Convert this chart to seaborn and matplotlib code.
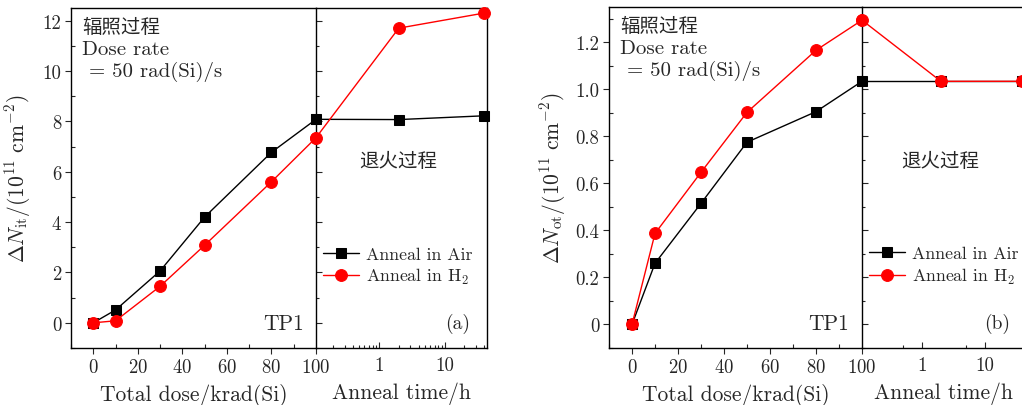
"""
Interface and oxide trap charge vs total dose, then during anneal (air vs H2).
Two panels, each split into an irradiation part and a log-time anneal part.
"""
import numpy as np
import seaborn as sns
import matplotlib.pyplot as plt
from matplotlib.ticker import MultipleLocator, FixedLocator, FuncFormatter, NullFormatter

sns.set_style("ticks")
plt.rcParams["font.family"] = ["cmr10", "Noto Sans CJK SC", "DejaVu Sans"]
plt.rcParams["mathtext.fontset"] = "cm"
plt.rcParams["axes.formatter.use_mathtext"] = True
plt.rcParams["axes.unicode_minus"] = False

################################ data

DOSE = [0, 10, 30, 50, 80, 100]        # krad(Si)
ANNEAL_T = [2, 40]                      # h

NIT_AIR = [0.0, 0.51, 2.06, 4.2, 6.77, 8.08]
NIT_H2 = [0.0, 0.08, 1.45, 3.08, 5.6, 7.35]
NIT_AIR_ANNEAL = [8.07, 8.22]
NIT_H2_ANNEAL = [11.7, 12.3]

NOT_AIR = [0.0, 0.26, 0.515, 0.775, 0.905, 1.034]
NOT_H2 = [0.0, 0.387, 0.647, 0.902, 1.166, 1.294]
NOT_AIR_ANNEAL = [1.034, 1.034]
NOT_H2_ANNEAL = [1.034, 1.034]

LABELS = ["Anneal in Air", r"Anneal in H$_2$"]

################################ style

W, H = 1022, 406
T_MIN, T_MAX = 0.11, 44

def fx(px): return px / W
def fy(py): return 1 - py / H

LINE_ARGS = dict(linewidth=1.0, clip_on=False, zorder=5)
AIR_ARGS = dict(color="black", marker="s", markersize=7.5, markeredgecolor="black", **LINE_ARGS)
H2_ARGS = dict(color="red", marker="o", markersize=8.5, markeredgecolor="red", **LINE_ARGS)

CJK = ["Noto Sans CJK SC", "DejaVu Sans"]
LABEL_SIZE = 15.5
TICK_SIZE = 13.5
CJK_SIZE = 14

fig = plt.figure(figsize=(W / 100, H / 100), dpi=100)


def make_panel(x0, xdiv, x1, ytop, ybot, ylim, ymaj, ymin, yfmt, ylabel, ylab_x,
               d_air, d_h2, a_air, a_h2, letter, minor_t):
    axl = fig.add_axes([fx(x0), fy(ybot), fx(xdiv - x0), (ybot - ytop) / H])
    axr = fig.add_axes([fx(xdiv), fy(ybot), fx(x1 - xdiv), (ybot - ytop) / H], sharey=axl)

    sns.lineplot(x=DOSE, y=d_air, ax=axl, **AIR_ARGS)
    sns.lineplot(x=DOSE, y=d_h2, ax=axl, **H2_ARGS)

    t_air = [T_MIN] + ANNEAL_T
    sns.lineplot(x=t_air, y=[d_air[-1]] + a_air, ax=axr, label=LABELS[0], **AIR_ARGS)
    sns.lineplot(x=t_air, y=[d_h2[-1]] + a_h2, ax=axr, label=LABELS[1], **H2_ARGS)

    # left: dose axis
    axl.set_xlim(-10, 100)
    axl.set_ylim(*ylim)
    axl.xaxis.set_major_locator(MultipleLocator(20))
    axl.xaxis.set_minor_locator(MultipleLocator(10))
    axl.yaxis.set_major_locator(MultipleLocator(ymaj))
    axl.yaxis.set_minor_locator(MultipleLocator(ymin))
    axl.yaxis.set_major_formatter(FuncFormatter(yfmt))
    axl.tick_params(which="major", direction="out", length=4, width=0.8, labelsize=TICK_SIZE, pad=3)
    axl.tick_params(which="minor", direction="in", length=3, width=0.8)
    axl.tick_params(axis="y", which="both", right=False)
    axl.spines["right"].set_visible(False)
    axl.set_xlabel("Total dose/krad(Si)", fontsize=LABEL_SIZE, labelpad=5)
    axl.set_ylabel(ylabel, fontsize=LABEL_SIZE)
    axl.yaxis.label.set_va("center")
    axl.yaxis.set_label_coords((ylab_x - x0) / (xdiv - x0), 0.5)

    # right: anneal time, log
    axr.set_xscale("log")
    axr.set_xlim(T_MIN, T_MAX)
    axr.xaxis.set_major_locator(FixedLocator([1, 10]))
    axr.xaxis.set_major_formatter(FuncFormatter(lambda v, p: f"{v:g}"))
    axr.xaxis.set_minor_locator(FixedLocator(minor_t))
    axr.xaxis.set_minor_formatter(NullFormatter())
    axr.tick_params(which="both", direction="in", width=0.8, labelsize=TICK_SIZE, pad=6)
    axr.tick_params(which="major", length=4)
    axr.tick_params(which="minor", length=2.5)
    axr.tick_params(axis="y", which="both", labelleft=False, left=True, right=False)
    axr.tick_params(axis="y", which="major", length=4)
    axr.set_xlabel("Anneal time/h", fontsize=LABEL_SIZE, labelpad=5)

    for ax in (axl, axr):
        for s in ax.spines.values():
            s.set_linewidth(1.0)
            s.set_color("black")

    # annotations
    axl.text(0.045, 0.947, "辐照过程", transform=axl.transAxes, fontsize=CJK_SIZE,
             family=CJK, ha="left", va="center")
    axl.text(0.045, 0.879, "Dose rate", transform=axl.transAxes, fontsize=15,
             ha="left", va="center")
    axl.text(0.045, 0.815, r" = 50 rad(Si)/s", transform=axl.transAxes, fontsize=15,
             ha="left", va="center")
    axl.text(0.95, 0.074, "TP1", transform=axl.transAxes, fontsize=LABEL_SIZE,
             ha="right", va="center")
    axr.text(0.48, 0.55, "退火过程", transform=axr.transAxes, fontsize=CJK_SIZE,
             family=CJK, ha="center", va="center")
    axr.text(0.83, 0.074, letter, transform=axr.transAxes, fontsize=14,
             ha="center", va="center")

    axr.legend(loc="upper left", bbox_to_anchor=(0.0, 0.32), frameon=False,
               fontsize=12.8, handlelength=2.0, handletextpad=0.4,
               labelspacing=0.25, borderaxespad=0)
    return axl, axr


make_panel(71, 316, 487, 9, 349, (-1, 12.5), 2, 1,
           lambda v, p: f"{v:g}",
           r"$\Delta N_{\rm it}/(10^{11}\ {\rm cm}^{-2})$", 18,
           NIT_AIR, NIT_H2, NIT_AIR_ANNEAL, NIT_H2_ANNEAL, "(a)",
           [0.2, 0.3, 0.4, 0.5, 0.6, 0.7, 0.8, 0.9, 2, 3, 4, 5, 6, 7, 8, 9, 20, 30, 40])

make_panel(609, 862, 1025, 8, 349, (-0.1, 1.35), 0.2, 0.1,
           lambda v, p: "0" if abs(v) < 1e-9 else f"{v:.1f}",
           r"$\Delta N_{\rm ot}/(10^{11}\ {\rm cm}^{-2})$", 553,
           NOT_AIR, NOT_H2, NOT_AIR_ANNEAL, NOT_H2_ANNEAL, "(b)",
           [0.5, 5])

fig.savefig("out.png", dpi=100)
